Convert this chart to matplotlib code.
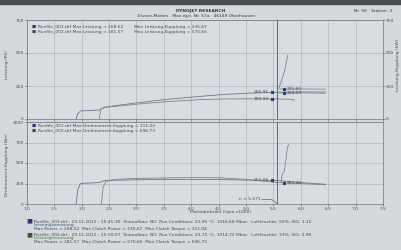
import numpy as np
import matplotlib
matplotlib.use("Agg")
import matplotlib.pyplot as plt

# === DATA ===
rpm_ticks = [1.0, 1.5, 2.0, 2.5, 3.0, 3.5, 4.0, 4.5, 5.0, 5.5, 6.0, 6.5, 7.0, 7.5]
cursor_rpm = 5.571

# top panel: Leistung
p1_rpm = [1.90, 1.93, 1.98, 2.32, 2.42, 3.0, 3.5, 4.13, 4.6, 5.0, 5.571, 6.0, 6.45]
p1_val = [0, 40, 61, 68, 90, 122, 147, 170, 186, 195, 203, 205, 204]
p2_rpm = [2.32, 2.35, 2.42, 3.0, 3.5, 4.13, 4.6, 5.0, 5.571, 5.75, 5.85, 5.88]
p2_val = [0, 75, 88, 112, 130, 146, 152, 153, 152, 150, 148, 138]
k1_rpm = [5.60, 6.0, 6.45]
k1_val = [227, 228, 226]
k2_rpm = [5.60, 6.0, 6.45]
k2_val = [197, 197, 195]
spike_top_rpm = [5.60, 5.64, 5.71, 5.75, 5.76]
spike_top_val = [235, 280, 371, 462, 485]

# bottom panel: Drehmoment
t1_rpm = [1.90, 1.93, 1.98, 2.32, 2.42, 3.0, 3.5, 4.0, 4.5, 5.0, 5.571, 6.0, 6.45]
t1_val = [0, 180, 250, 262, 287, 295, 300, 300, 298, 292, 287, 262, 240]
t2_rpm = [2.36, 2.39, 2.44, 2.6, 3.0, 3.5, 4.0, 4.5, 5.0, 5.571, 6.0, 6.45]
t2_val = [0, 200, 275, 300, 312, 318, 322, 320, 300, 262, 250, 235]
spike_bot_rpm = [5.64, 5.66, 5.70, 5.73, 5.76, 5.78]
spike_bot_val = [262, 362, 400, 550, 700, 725]

top_labels = ["206,91", "190,94"]
top_labels_r = ["231,60", "200,59"]
bot_labels = ["251,00"]
bot_labels_r = ["260,30"]

leg_top = ["Runfile_001.drf Max Leistung = 208,52        Max Leistung-Kupplung = 235,67",
           "Runfile_002.drf Max Leistung = 181,57        Max Leistung-Kupplung = 570,66"]
leg_bot = ["Runfile_001.drf Max Drehmoment-Kupplung = 311,04",
           "Runfile_002.drf Max Drehmoment-Kupplung = 696,73"]
info = [
    ["Runfile_001.drf - 23.11.2012 - 15:45:30  Testaufbau: NO  Run Conditions: 21,95 \u00b0C, 1016,68 Mbar;  Luftfeuchte: 50%, ISG: 1,15",
     "Leistungsmessung",
     "Max Power = 208,52  Max Clutch Power = 235,67  Max Clutch Torque = 311,04"],
    ["Runfile_002.drf - 23.11.2012 - 15:50:07  Testaufbau: NO  Run Conditions: 23,75 \u00b0C, 1014,72 Mbar;  Luftfeuchte: 33%, ISG: 0,98",
     "Leistungsmessung",
     "Max Power = 181,57  Max Clutch Power = 570,66  Max Clutch Torque = 696,73"],
]

# === STYLE ===
PAPER = '#d5d8dc'
C1 = '#6a7690'
C2 = '#7c8878'
GRID = '#a9adb3'
TXT = '#45484e'
FS = 3.2

fig = plt.figure(figsize=(4.01, 2.5), dpi=100, facecolor=PAPER)
fig.patches.append(plt.Rectangle((0, 0.985), 1, 0.015, transform=fig.transFigure,
                                 color='#4a4c50', zorder=0))

ax1 = fig.add_axes([0.067, 0.524, 0.888, 0.396])
ax2 = fig.add_axes([0.067, 0.184, 0.888, 0.328])

for ax in (ax1, ax2):
    ax.set_facecolor('#d9dce0')
    ax.set_xlim(1.0, 7.5)
    ax.set_xticks(rpm_ticks)
    ax.grid(True, color=GRID, lw=0.4)
    ax.tick_params(labelsize=FS, colors=TXT, length=1.2, width=0.4, pad=1)
    for s in ax.spines.values():
        s.set_color('#70747a')
        s.set_linewidth(0.5)
    ax.axvline(cursor_rpm, color='#55585e', lw=0.6, zorder=5)

ax1.set_ylim(0, 750)
ax1.set_yticks([0, 250, 500, 750])
ax1.tick_params(labelbottom=False, right=True, labelright=True)
ax2.set_ylim(0, 1000)
ax2.set_yticks([0, 250, 500, 750, 1000])
ax2.set_xticklabels([f"{v:.1f}" for v in rpm_ticks])

ax1.plot(p1_rpm, p1_val, color=C1, lw=0.6)
ax1.plot(p2_rpm, p2_val, color=C2, lw=0.6)
ax1.plot(k1_rpm, k1_val, color=C1, lw=0.5)
ax1.plot(k2_rpm, k2_val, color=C2, lw=0.5)
ax1.plot(spike_top_rpm, spike_top_val, color=C1, lw=0.5)

ax2.plot(t1_rpm, t1_val, color=C1, lw=0.6)
ax2.plot(t2_rpm, t2_val, color=C2, lw=0.6)
ax2.plot(spike_bot_rpm, spike_bot_val, color=C1, lw=0.5)

# cursor value markers
def mark(ax, xs, ys, label, side):
    y = np.interp(cursor_rpm, xs, ys)
    dx = -0.1 if side == 'l' else 0.12
    ax.plot(cursor_rpm + dx, y, 's', ms=1.3, color='#2a3a80', zorder=6)
    ax.text(cursor_rpm + dx + (-0.05 if side == 'l' else 0.05), y, label,
            fontsize=FS, color=TXT, va='center',
            ha='right' if side == 'l' else 'left', zorder=6)

mark(ax1, p1_rpm, p1_val, top_labels[0], 'l')
mark(ax1, p2_rpm, p2_val, top_labels[1], 'l')
mark(ax1, k1_rpm, k1_val, top_labels_r[0], 'r')
mark(ax1, k2_rpm, k2_val, top_labels_r[1], 'r')
mark(ax2, t1_rpm, t1_val, bot_labels[0], 'l')
mark(ax2, t2_rpm, t2_val, bot_labels_r[0], 'r')

ax2.text(cursor_rpm - 0.3, 55, f"n = {cursor_rpm:.3f}".replace('.', ','),
         fontsize=FS, color=TXT, ha='right', va='center')
ax2.plot([cursor_rpm - 0.28, cursor_rpm - 0.1, cursor_rpm], [55, 55, 0], color=TXT, lw=0.4)

# legends inside panels
for i, (t, c) in enumerate(zip(leg_top, ['#2a3a80', '#3a5a2a'])):
    ax1.text(0.012, 0.93 - i * 0.05, "\u25a0", transform=ax1.transAxes, fontsize=FS, color=c, va='center')
    ax1.text(0.03, 0.93 - i * 0.05, t, transform=ax1.transAxes, fontsize=FS, color=TXT, va='center')
for i, (t, c) in enumerate(zip(leg_bot, ['#2a3a80', '#3a5a2a'])):
    ax2.text(0.012, 0.95 - i * 0.055, "\u25a0", transform=ax2.transAxes, fontsize=FS, color=c, va='center')
    ax2.text(0.03, 0.95 - i * 0.055, t, transform=ax2.transAxes, fontsize=FS, color=TXT, va='center')

# axis titles
fig.text(0.018, 0.74, "Leistung (PS)", rotation=90, fontsize=FS, color=TXT, va='center', ha='center')
fig.text(0.018, 0.34, "Drehmoment-Kupplung (Nm)", rotation=90, fontsize=FS, color=TXT, va='center', ha='center')
fig.text(0.993, 0.74, "Leistung-Kupplung (kW)", rotation=90, fontsize=FS, color=TXT, va='center', ha='center')
fig.text(0.55, 0.152, "Motordrehzahl (Upm x1000)", fontsize=FS, color=TXT, ha='center', va='center')

# header
fig.text(0.5, 0.955, "DYNOJET RESEARCH", fontsize=FS, color='#33363c', ha='center', va='center', weight='bold')
fig.text(0.49, 0.937, "Eissen-Motors   Max dyn. Nr. 57a   46149 Oberhausen", fontsize=FS,
         color='#33363c', ha='center', va='center')
fig.text(0.93, 0.955, "Nr. 56   Station: 3", fontsize=FS, color='#33363c', ha='center', va='center')

# run info block
cols = [('#2a3a80', '#3d5a8a'), ('#3a5a2a', '#4f7a3a')]
for j, block in enumerate(info):
    y0 = 0.116 - j * 0.054
    fig.text(0.067, y0, "\u25a0", fontsize=4.5, color=cols[j][0], va='center')
    for k, line in enumerate(block):
        fig.text(0.085, y0 - k * 0.016, line, fontsize=FS, color=cols[j][1] if k == 1 else TXT,
                 va='center')

fig.savefig("out.png", dpi=100, facecolor=PAPER)
